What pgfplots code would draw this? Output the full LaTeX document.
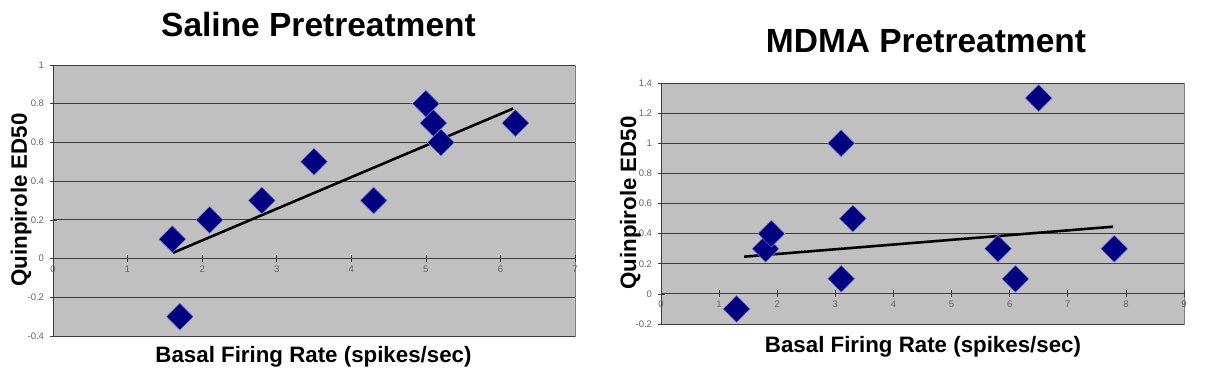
\documentclass[border=0pt]{standalone}
\usepackage{fontspec}
\setmainfont{Liberation Sans}
\usepackage{pgfplots}
\pgfplotsset{compat=1.18}
\definecolor{plotbg}{RGB}{192,192,192}
\definecolor{navy}{RGB}{0,0,128}
\definecolor{gridc}{RGB}{60,60,60}
\definecolor{tickc}{RGB}{100,100,100}
\definecolor{frame}{RGB}{128,128,128}
\definecolor{mkedge}{RGB}{130,130,210}
\pgfplotsset{
  excel/.style={
    scale only axis,
    axis x line=middle,
    axis y line=left,
    axis line style={-, gridc, line width=0.8pt},
    axis background/.style={fill=plotbg, draw=frame, line width=1pt},
    hide obscured x ticks=false,
    hide obscured y ticks=false,
    ymajorgrids,
    major grid style={gridc, line width=0.8pt},
    tick align=center,
    major tick length=7pt,
    tick style={gridc, line width=0.6pt},
    tick label style={font=\fontsize{9.5}{10}\selectfont, text=tickc},
    yticklabel style={xshift=-2pt},
    clip=false,
  },
  dmk/.style={only marks, mark=square*, mark size=9.5pt,
    mark options={rotate=45, fill=navy, draw=mkedge, line width=0.5pt}},
  trend/.style={black, line width=2.6pt, no marks},
}
\begin{document}
\begin{tikzpicture}
\useasboundingbox (0pt,-378pt) rectangle (1209pt,0pt);
% Left: Saline
\begin{axis}[excel,
  at={(53pt,-336pt)}, anchor=south west,
  width=522pt, height=271pt,
  xmin=0, xmax=7, ymin=-0.4, ymax=1,
  xtick={0,1,2,3,4,5,6,7},
  xticklabels={0,1,2,3,4,5,6,7},
  ytick={-0.4,-0.2,0,0.2,0.4,0.6,0.8,1},
  yticklabels={-0.4,-0.2,0,0.2,0.4,0.6,0.8,1},
]
\addplot[dmk] coordinates {
  (1.6,0.1) (1.7,-0.3) (2.1,0.2) (2.8,0.3) (3.5,0.5)
  (4.3,0.3) (5.0,0.8) (5.1,0.7) (5.2,0.6) (6.2,0.7)
};
\addplot[trend] coordinates {(1.61,0.03) (6.17,0.775)};
\end{axis}
% Right: MDMA
\begin{axis}[excel,
  at={(661pt,-324pt)}, anchor=south west,
  width=523pt, height=241pt,
  xmin=0, xmax=9, ymin=-0.2, ymax=1.4,
  xtick={0,1,2,3,4,5,6,7,8,9},
  xticklabels={0,1,2,3,4,5,6,7,8,9},
  ytick={-0.2,0,0.2,0.4,0.6,0.8,1,1.2,1.4},
  yticklabels={-0.2,0,0.2,0.4,0.6,0.8,1,1.2,1.4},
]
\addplot[dmk] coordinates {
  (1.3,-0.1) (1.8,0.3) (1.9,0.4) (3.1,1.0) (3.1,0.1) (3.3,0.5)
  (5.8,0.3) (6.1,0.1) (6.5,1.3) (7.8,0.3)
};
\addplot[trend] coordinates {(1.43,0.247) (7.78,0.446)};
\end{axis}
% Titles and labels
\node[anchor=base, font=\fontsize{33.5}{36}\selectfont\bfseries] at (318.5pt,-36.7pt) {Saline Pretreatment};
\node[anchor=base, font=\fontsize{33.5}{36}\selectfont\bfseries] at (926pt,-52.3pt) {MDMA Pretreatment};
\node[anchor=base, font=\fontsize{22.3}{24}\selectfont\bfseries] at (313.5pt,-362.3pt) {Basal Firing Rate (spikes/sec)};
\node[anchor=base, font=\fontsize{22.3}{24}\selectfont\bfseries] at (923pt,-352.3pt) {Basal Firing Rate (spikes/sec)};
\node[anchor=base, rotate=90, font=\fontsize{22.3}{24}\selectfont\bfseries] at (27pt,-200pt) {Quinpirole ED50};
\node[anchor=base, rotate=90, font=\fontsize{22.3}{24}\selectfont\bfseries] at (636pt,-203pt) {Quinpirole ED50};
\end{tikzpicture}
\end{document}
